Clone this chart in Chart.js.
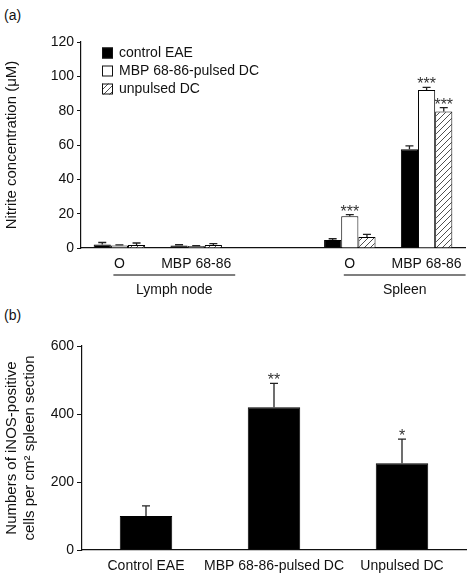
<!DOCTYPE html>
<html>
<head>
<meta charset="utf-8">
<script src="https://cdn.jsdelivr.net/npm/chart.js@4.4.1/dist/chart.umd.min.js"></script>
<style>
body { margin:0; background:#fff; width:468px; height:574px; position:relative; overflow:hidden; font-family:"Liberation Sans", Arial, sans-serif; }
canvas { position:absolute; left:0; }
#ca { top:0; }
#cb { top:300px; }
.tag { position:absolute; left:4px; font-size:14px; color:#111; }
</style>
</head>
<body>
<div class="tag" style="top:7px">(a)</div>
<div class="tag" style="top:307px">(b)</div>
<canvas id="ca" width="468" height="300"></canvas>
<canvas id="cb" width="468" height="274"></canvas>
<script>
// panel (a) data
var nitriteLabels = ['O', 'MBP 68-86', '', 'O', 'MBP 68-86'];
var groupNames = ['Lymph node', 'Spleen'];
var groupFrom = [0, 3];
var groupTo = [1, 4];
var seriesNames = ['control EAE', 'MBP 68-86-pulsed DC', 'unpulsed DC'];
var controlEAE = [2, 1.5, null, 4.7, 57.5];
var controlEAEErr = [1.2, 0.4, null, 0.7, 2];
var mbpPulsed = [1.5, 1.2, null, 18.5, 92];
var mbpPulsedErr = [0.3, 0.2, null, 0.9, 1.6];
var unpulsed = [1.8, 1.8, null, 6.4, 79.5];
var unpulsedErr = [1.1, 0.8, null, 1.5, 2.3];
var controlStars = ['', '', '', '', ''];
var mbpStars = ['', '', '', '***', '***'];
var unpulsedStars = ['', '', '', '', '***'];

// panel (b) data
var inosLabels = ['Control EAE', 'MBP 68-86-pulsed DC', 'Unpulsed DC'];
var inosValues = [100, 420, 255];
var inosErr = [30, 70, 71];
var inosStars = ['', '**', '*'];

var ink = '#111';
var fontFam = '"Liberation Sans", Arial, sans-serif';
Chart.defaults.font.family = fontFam;
Chart.defaults.color = ink;

function hatch(ctx) {
	var c = document.createElement('canvas');
	c.width = 6; c.height = 6;
	var g = c.getContext('2d');
	g.fillStyle = '#fff';
	g.fillRect(0, 0, 6, 6);
	g.strokeStyle = '#222';
	g.lineWidth = 0.8;
	g.beginPath();
	g.moveTo(0, 6); g.lineTo(6, 0);
	g.moveTo(-1, 1); g.lineTo(1, -1);
	g.moveTo(5, 7); g.lineTo(7, 5);
	g.stroke();
	return ctx.createPattern(c, 'repeat');
}

var errorBars = {
	id: 'errorBars',
	afterDatasetsDraw: function(chart) {
		var ctx = chart.ctx;
		var ys = chart.scales.y;
		ctx.save();
		chart.data.datasets.forEach(function(ds, i) {
			var meta = chart.getDatasetMeta(i);
			meta.data.forEach(function(bar, j) {
				var v = ds.data[j];
				if (v === null || v === undefined) { return; }
				var e = ds.err ? ds.err[j] : 0;
				var top = ys.getPixelForValue(v + e);
				ctx.strokeStyle = '#222';
				ctx.lineWidth = 1.3;
				ctx.beginPath();
				ctx.moveTo(bar.x, bar.y);
				ctx.lineTo(bar.x, top);
				ctx.moveTo(bar.x - 4, top);
				ctx.lineTo(bar.x + 4, top);
				ctx.stroke();
				if (ds.stars && ds.stars[j]) {
					ctx.fillStyle = '#333';
					ctx.font = '16px ' + fontFam;
					ctx.textAlign = 'center';
					ctx.textBaseline = 'alphabetic';
					ctx.fillText(ds.stars[j], bar.x, top + 2);
				}
			});
		});
		ctx.restore();
	}
};

var boxLegend = {
	id: 'boxLegend',
	afterDraw: function(chart) {
		var ctx = chart.ctx;
		var a = chart.chartArea;
		ctx.save();
		chart.data.datasets.forEach(function(ds, i) {
			var y = a.top + 11 + i * 18;
			ctx.fillStyle = ds.backgroundColor;
			ctx.fillRect(a.left + 21, y - 5.5, 11, 11);
			ctx.strokeStyle = '#111';
			ctx.lineWidth = 1;
			ctx.strokeRect(a.left + 21.5, y - 5, 10, 10);
			ctx.fillStyle = ink;
			ctx.font = '14px ' + fontFam;
			ctx.textAlign = 'left';
			ctx.textBaseline = 'middle';
			ctx.fillText(ds.label, a.left + 38, y);
		});
		ctx.restore();
	}
};

var groupLines = {
	id: 'groupLines',
	afterDraw: function(chart) {
		var ctx = chart.ctx;
		var xs = chart.scales.x;
		ctx.save();
		groupNames.forEach(function(name, k) {
			var x1 = xs.getPixelForValue(groupFrom[k]) - 6;
			var x2 = xs.getPixelForValue(groupTo[k]) + 39;
			ctx.strokeStyle = '#555';
			ctx.lineWidth = 1.5;
			ctx.beginPath();
			ctx.moveTo(x1, 275);
			ctx.lineTo(x2, 275);
			ctx.stroke();
			ctx.fillStyle = ink;
			ctx.font = '14px ' + fontFam;
			ctx.textAlign = 'center';
			ctx.textBaseline = 'middle';
			ctx.fillText(name, (x1 + x2) / 2, 290);
		});
		ctx.restore();
	}
};

var ctxA = document.getElementById('ca').getContext('2d');

var chart_a = new Chart(ctxA, {
	type: 'bar',
	data: {
		labels: nitriteLabels,
		datasets: [
			{ label: seriesNames[0], data: controlEAE, err: controlEAEErr, stars: controlStars, backgroundColor: '#000', borderColor: '#000', borderWidth: 1 },
			{ label: seriesNames[1], data: mbpPulsed, err: mbpPulsedErr, stars: mbpStars, backgroundColor: '#fff', borderColor: '#000', borderWidth: 1 },
			{ label: seriesNames[2], data: unpulsed, err: unpulsedErr, stars: unpulsedStars, backgroundColor: hatch(ctxA), borderColor: '#000', borderWidth: 1 }
		]
	},
	options: {
		responsive: false,
		animation: false,
		categoryPercentage: 0.67,
		barPercentage: 1,
		layout: { padding: { left: 0, top: 42, right: 3, bottom: 0 } },
		plugins: { legend: { display: false }, tooltip: { enabled: false } },
		scales: {
			x: {
				grid: { display: false },
				border: { color: ink, width: 1.2 },
				ticks: { font: { size: 14 }, color: ink, padding: 0, maxRotation: 0, autoSkip: false },
				afterFit: function(s) { s.height = 52; }
			},
			y: {
				min: 0, max: 120,
				grid: { drawOnChartArea: false, tickLength: 4, color: ink },
				border: { color: ink, width: 1.2 },
				ticks: { stepSize: 20, font: { size: 14 }, color: ink, padding: 3 },
				title: { display: true, text: 'Nitrite concentration (μM)', font: { size: 15 }, color: ink, padding: { top: 3, bottom: 0 } },
				afterFit: function(s) { s.width = 81; }
			}
		}
	},
	plugins: [errorBars, boxLegend, groupLines]
});

var chart_b = new Chart(document.getElementById('cb'), {
	type: 'bar',
	data: {
		labels: inosLabels,
		datasets: [
			{ label: 'iNOS', data: inosValues, err: inosErr, stars: inosStars, backgroundColor: '#000', borderColor: '#000', borderWidth: 1 }
		]
	},
	options: {
		responsive: false,
		animation: false,
		categoryPercentage: 0.41,
		barPercentage: 1,
		layout: { padding: { left: 0, top: 46, right: 2, bottom: 0 } },
		plugins: { legend: { display: false }, tooltip: { enabled: false } },
		scales: {
			x: {
				grid: { display: false },
				border: { color: ink, width: 1.2 },
				ticks: { font: { size: 14 }, color: ink, padding: 0, maxRotation: 0, autoSkip: false },
				afterFit: function(s) { s.height = 24; }
			},
			y: {
				min: 0, max: 600,
				grid: { drawOnChartArea: false, tickLength: 5, color: ink },
				border: { color: ink, width: 1.2 },
				ticks: { stepSize: 200, font: { size: 14 }, color: ink, padding: 3 },
				title: { display: true, text: ['Numbers of iNOS-positive', 'cells per cm² spleen section'], font: { size: 15 }, color: ink, padding: { top: 3, bottom: 0 } },
				afterFit: function(s) { s.width = 82; }
			}
		}
	},
	plugins: [errorBars]
});
</script>
</body>
</html>
